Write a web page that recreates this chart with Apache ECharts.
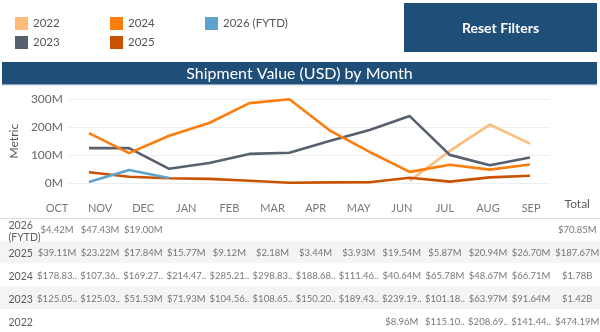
<!DOCTYPE html>
<html>
<head>
<meta charset="utf-8">
<script src="https://cdn.jsdelivr.net/npm/echarts@6/dist/echarts.min.js"></script>
<style>
html,body{margin:0;padding:0;background:#fff;}
#c{width:600px;height:332px;}
</style>
</head>
<body>
<div id="c"></div>
<script>
// ---- data (values in millions USD) ----
const months = ['OCT','NOV','DEC','JAN','FEB','MAR','APR','MAY','JUN','JUL','AUG','SEP'];
const seriesNames = ['2022','2023','2024','2025','2026 (FYTD)'];
const v2022 = [null,null,null,null,null,null,null,null,8.96,115.10,208.69,141.44];
const v2023 = [125.05,125.03,51.53,71.93,104.56,108.65,150.20,189.43,239.19,101.18,63.97,91.64];
const v2024 = [178.83,107.36,169.27,214.47,285.21,298.83,188.68,111.46,40.64,65.78,48.67,66.71];
const v2025 = [39.11,23.22,17.84,15.77,9.12,2.18,3.44,3.93,19.54,5.87,20.94,26.70];
const v2026 = [4.42,47.43,19.00,null,null,null,null,null,null,null,null,null];
const yTicks = [0,100,200,300];
const tableRows = ['2026 (FYTD)','2025','2024','2023','2022'];
const totalLabels = ['$70.85M','$187.67M','$1.78B','$1.42B','$474.19M'];
const totalHeader = 'Total';

const colors = {'2022':'#ffbc79','2023':'#57606c','2024':'#fc7d0b','2025':'#c85200','2026 (FYTD)':'#5fa2ce'};
const valuesByName = {'2022':v2022,'2023':v2023,'2024':v2024,'2025':v2025,'2026 (FYTD)':v2026};

const FONT = 'Lato';
const chart = echarts.init(document.getElementById('c'), null, {renderer:'canvas'});

// table layout helpers
const COL0 = 57, COLW = 43.1, TOTAL_COL = 12.07, ROWLBL_COL = (8 - 57) / 43.1;
const rowCats = ['hdr'].concat(tableRows);
function cellText(v){
  let s = '$' + v.toFixed(2) + 'M';
  if (s.length > 7) s = s.slice(0,7) + '..';
  return s;
}
const headerData = months.map((m,i)=>[i,'hdr',m]);
const cellData = [];
tableRows.forEach(r=>{
  const arr = valuesByName[r];
  arr.forEach((v,i)=>{ if(v!=null) cellData.push([i,r,cellText(v)]); });
});
const totalData = tableRows.map((r,k)=>[TOTAL_COL,r,totalLabels[k]]);
const rowLabelData = tableRows.map(r=>[ROWLBL_COL,r,r.replace(' ','\n')]);

const lineSeries = seriesNames.map(n=>({
  name:n, type:'line', xAxisIndex:0, yAxisIndex:0,
  data: valuesByName[n], symbol:'none', connectNulls:false,
  lineStyle:{width:2.6,color:colors[n]}, itemStyle:{color:colors[n]},
  z: 3
}));

const textSeries = (name,data,style,offset,pos)=>({
  name:name, type:'scatter', xAxisIndex:1, yAxisIndex:1,
  data:data, symbolSize:1, itemStyle:{color:'rgba(0,0,0,0)'},
  silent:true,
  label:Object.assign({show:true,position:pos||'inside',distance:0,formatter:p=>p.value[2],fontFamily:FONT,offset:offset||[0,0]},style)
});

const legendPos = [[10,12],[10,31],[105,12],[105,31],[200,12]];
const legends = seriesNames.map((n,k)=>({
  data:[n], left:legendPos[k][0], top:legendPos[k][1], itemWidth:13, itemHeight:13, itemGap:5, icon:'rect',
  textStyle:{fontFamily:FONT,fontSize:11.5,color:'#555'}, selectedMode:false
}));

const option = {
  animation:false,
  textStyle:{fontFamily:FONT},
  legend:legends,
  graphic:[
    {type:'rect', shape:{x:404,y:3,width:193,height:49}, style:{fill:'#1f4e78'}},
    {type:'text', x:500.5, y:28, style:{text:'Reset Filters', fill:'#fff', font:'bold 14px '+FONT, align:'center', verticalAlign:'middle'}},
    {type:'rect', shape:{x:2,y:62,width:595,height:22.5}, style:{fill:'#1f4e78'}},
    {type:'text', x:299.5, y:73.5, style:{text:'Shipment Value (USD) by Month', fill:'#fff', font:'16px '+FONT, align:'center', verticalAlign:'middle'}},
    {type:'line', shape:{x1:2,y1:85.5,x2:597,y2:85.5}, style:{stroke:'#e3e8ee',lineWidth:1}}
  ],
  grid:[
    {left:61.7, right:50, top:99, bottom:148.7, containLabel:false},
    {left:0, right:0, top:195, bottom:-1, containLabel:false}
  ],
  xAxis:[
    {gridIndex:0, type:'category', data:months, boundaryGap:true,
     axisLine:{show:false}, axisTick:{show:false}, axisLabel:{show:false}, splitLine:{show:false}},
    {gridIndex:1, type:'value', min:-COL0/COLW, max:(600-COL0)/COLW,
     axisLine:{show:false}, axisTick:{show:false}, axisLabel:{show:false}, splitLine:{show:false}}
  ],
  yAxis:[
    {gridIndex:0, type:'value', min:0, max:300, interval:100,
     name:'Metric', nameLocation:'middle', nameGap:36, nameRotate:90,
     nameTextStyle:{fontFamily:FONT,fontSize:12,color:'#555'},
     axisLine:{show:false}, axisTick:{show:false},
     axisLabel:{formatter:v=>v+'M', fontFamily:FONT, fontSize:12, color:'#666', margin:6},
     splitLine:{lineStyle:{color:'#eeeeee',width:1}}},
    {gridIndex:1, type:'category', data:rowCats, inverse:true,
     axisLine:{show:false}, axisTick:{show:false}, axisLabel:{show:false},
     splitLine:{show:true, lineStyle:{color:['rgba(0,0,0,0)','#dddddd','rgba(0,0,0,0)','rgba(0,0,0,0)','rgba(0,0,0,0)','rgba(0,0,0,0)','rgba(0,0,0,0)'],width:1}},
     splitArea:{show:true, areaStyle:{color:['#ffffff','#ffffff','#f4f4f4','#ffffff','#f4f4f4','#ffffff']}}}
  ],
  series: lineSeries.concat([
    textSeries('hdr', headerData, {fontSize:11,color:'#555'}, [0,2]),
    textSeries('hdrTotal', [[TOTAL_COL,'hdr',totalHeader]], {fontSize:12,color:'#333'}, [0,-2]),
    textSeries('cells', cellData, {fontSize:9.5,color:'#555'}, [0,1]),
    textSeries('totals', totalData, {fontSize:9.5,color:'#555'}, [0,1]),
    textSeries('rowLabels', rowLabelData, {fontSize:10.5,color:'#333',lineHeight:12}, [0,2], 'right')
  ])
};
chart.setOption(option);
</script>
</body>
</html>
